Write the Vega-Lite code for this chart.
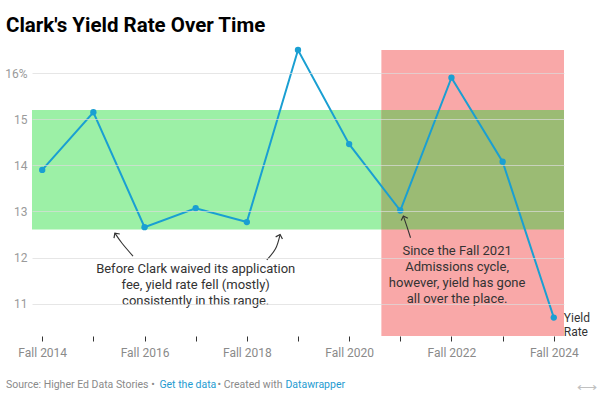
{
  "$schema": "https://vega.github.io/schema/vega-lite/v6.json",
  "width": 532,
  "height": 286,
  "autosize": {"type": "none"},
  "padding": {"left": 32, "top": 50, "right": 36, "bottom": 63},
  "background": "white",
  "config": {"font": "Roboto", "view": {"stroke": null}},
  "title": {
    "text": "Clark's Yield Rate Over Time",
    "anchor": "start",
    "frame": "group",
    "dx": -26,
    "offset": -6,
    "baseline": "alphabetic",
    "fontSize": 20.5,
    "fontWeight": "bold",
    "color": "#000000",
    "font": "Roboto"
  },
  "datasets": {
    "yield": [
      {"year": 2014, "rate": 13.90},
      {"year": 2015, "rate": 15.15},
      {"year": 2016, "rate": 12.66},
      {"year": 2017, "rate": 13.07},
      {"year": 2018, "rate": 12.77},
      {"year": 2019, "rate": 16.50},
      {"year": 2020, "rate": 14.46},
      {"year": 2021, "rate": 13.02},
      {"year": 2022, "rate": 15.90},
      {"year": 2023, "rate": 14.08},
      {"year": 2024, "rate": 10.70}
    ],
    "bands": [
      {"band": "green", "x1": 2013.8, "x2": 2024.2, "y1": 12.61, "y2": 15.2},
      {"band": "red", "x1": 2020.63, "x2": 2024.2, "y1": 10.3, "y2": 16.5},
      {"band": "overlap", "x1": 2020.63, "x2": 2024.2, "y1": 12.61, "y2": 15.2}
    ],
    "arrows": [
      {"arrow": 1, "ord": 0, "x": 2015.775, "y": 12.03},
      {"arrow": 1, "ord": 1, "x": 2015.56, "y": 12.31},
      {"arrow": 1, "ord": 2, "x": 2015.42, "y": 12.53},
      {"arrow": 2, "ord": 0, "x": 2018.39, "y": 11.95},
      {"arrow": 2, "ord": 1, "x": 2018.56, "y": 12.19},
      {"arrow": 2, "ord": 2, "x": 2018.65, "y": 12.50},
      {"arrow": 3, "ord": 0, "x": 2021.20, "y": 12.43},
      {"arrow": 3, "ord": 1, "x": 2021.13, "y": 12.67},
      {"arrow": 3, "ord": 2, "x": 2021.06, "y": 12.90}
    ],
    "notes": [
      {"note": "a", "x": 2017.0, "y": 11.655, "text": "Before Clark waived its application\nfee, yield rate fell (mostly)\nconsistently in this range."},
      {"note": "b", "x": 2022.11, "y": 12.05, "text": "Since the Fall 2021\nAdmissions cycle,\nhowever, yield has gone\nall over the place."}
    ],
    "endlabel": [
      {"x": 2024, "y": 10.70, "text": "Yield\nRate"}
    ]
  },
  "layer": [
    {
      "data": {"name": "bands"},
      "mark": {"type": "rect"},
      "encoding": {
        "x": {
          "field": "x1", "type": "quantitative", "title": null,
          "scale": {"domain": [2013.8, 2024.2], "nice": false, "zero": false},
          "axis": {
            "values": [2014, 2015, 2016, 2017, 2018, 2019, 2020, 2021, 2022, 2023, 2024],
            "labelExpr": "datum.value % 2 == 0 ? 'Fall ' + datum.value : ''",
            "domain": false,
            "grid": false,
            "tickColor": "#333333",
            "tickSize": 5,
            "labelPadding": 6,
            "labelColor": "#8a8a8a",
            "labelFontSize": 12,
            "labelFont": "Roboto",
            "labelFlush": false,
            "labelOverlap": false
          }
        },
        "x2": {"field": "x2"},
        "y": {
          "field": "y1", "type": "quantitative", "title": null,
          "scale": {"domain": [10.3, 16.5], "nice": false, "zero": false},
          "axis": {
            "values": [11, 12, 13, 14, 15, 16],
            "labelExpr": "datum.value == 16 ? '16%' : datum.label",
            "domain": false,
            "ticks": false,
            "labelPadding": 5,
            "labelColor": "#9a9a9a",
            "labelFontSize": 12,
            "labelFont": "Roboto",
            "grid": true,
            "gridColor": "#dcdcdc",
            "gridOpacity": 0.7,
            "zindex": 1
          }
        },
        "y2": {"field": "y2"},
        "color": {
          "field": "band", "type": "nominal", "legend": null,
          "scale": {"domain": ["green", "red", "overlap"], "range": ["#9cf0a6", "#f9a8a8", "#9bbb74"]}
        }
      }
    },
    {
      "data": {"name": "yield"},
      "mark": {"type": "line", "color": "#1a9fd2", "strokeWidth": 2},
      "encoding": {
        "x": {"field": "year", "type": "quantitative", "title": null},
        "y": {"field": "rate", "type": "quantitative", "title": null}
      }
    },
    {
      "data": {"name": "yield"},
      "mark": {"type": "point", "filled": true, "color": "#1a9fd2", "size": 40, "opacity": 1},
      "encoding": {
        "x": {"field": "year", "type": "quantitative", "title": null},
        "y": {"field": "rate", "type": "quantitative", "title": null}
      }
    },
    {
      "data": {"name": "arrows"},
      "mark": {"type": "line", "color": "#333333", "strokeWidth": 1.1, "interpolate": "natural"},
      "encoding": {
        "x": {"field": "x", "type": "quantitative", "title": null},
        "y": {"field": "y", "type": "quantitative", "title": null},
        "detail": {"field": "arrow"},
        "order": {"field": "ord"}
      }
    },
    {
      "data": {"name": "arrows"},
      "transform": [{"filter": "datum.arrow == 1 && datum.ord == 2"}],
      "mark": {"type": "point", "shape": "M-1,1L0,0L1,1", "filled": false, "color": "#333333", "strokeWidth": 1.2, "size": 50, "angle": 325, "opacity": 1},
      "encoding": {
        "x": {"field": "x", "type": "quantitative", "title": null},
        "y": {"field": "y", "type": "quantitative", "title": null}
      }
    },
    {
      "data": {"name": "arrows"},
      "transform": [{"filter": "datum.arrow == 2 && datum.ord == 2"}],
      "mark": {"type": "point", "shape": "M-1,1L0,0L1,1", "filled": false, "color": "#333333", "strokeWidth": 1.2, "size": 50, "angle": 17, "opacity": 1},
      "encoding": {
        "x": {"field": "x", "type": "quantitative", "title": null},
        "y": {"field": "y", "type": "quantitative", "title": null}
      }
    },
    {
      "data": {"name": "arrows"},
      "transform": [{"filter": "datum.arrow == 3 && datum.ord == 2"}],
      "mark": {"type": "point", "shape": "M-1,1L0,0L1,1", "filled": false, "color": "#333333", "strokeWidth": 1.2, "size": 50, "angle": 341, "opacity": 1},
      "encoding": {
        "x": {"field": "x", "type": "quantitative", "title": null},
        "y": {"field": "y", "type": "quantitative", "title": null}
      }
    },
    {
      "data": {"name": "notes"},
      "mark": {"type": "text", "align": "center", "baseline": "alphabetic", "fontSize": 13, "lineHeight": 16, "lineBreak": "\n", "color": "#333333", "font": "Roboto"},
      "encoding": {
        "x": {"field": "x", "type": "quantitative", "title": null},
        "y": {"field": "y", "type": "quantitative", "title": null},
        "text": {"field": "text"}
      }
    },
    {
      "data": {"name": "endlabel"},
      "mark": {"type": "text", "align": "left", "baseline": "alphabetic", "dx": 10, "dy": 4.5, "fontSize": 12, "lineHeight": 14, "lineBreak": "\n", "color": "#333333", "font": "Roboto"},
      "encoding": {
        "x": {"field": "x", "type": "quantitative", "title": null},
        "y": {"field": "y", "type": "quantitative", "title": null},
        "text": {"field": "text"}
      }
    },
    {
      "data": {"values": [{"t": "Source: Higher Ed Data Stories  •"}]},
      "mark": {"type": "text", "align": "left", "baseline": "alphabetic", "fontSize": 10.5, "color": "#8a8a8a", "font": "Roboto"},
      "encoding": {"x": {"value": -26}, "y": {"value": 338}, "text": {"field": "t"}}
    },
    {
      "data": {"values": [{"t": "Get the data"}]},
      "mark": {"type": "text", "align": "left", "baseline": "alphabetic", "fontSize": 10.5, "color": "#1f9bd1", "font": "Roboto"},
      "encoding": {"x": {"value": 127.4}, "y": {"value": 338}, "text": {"field": "t"}}
    },
    {
      "data": {"values": [{"t": "• Created with"}]},
      "mark": {"type": "text", "align": "left", "baseline": "alphabetic", "fontSize": 10.5, "color": "#8a8a8a", "font": "Roboto"},
      "encoding": {"x": {"value": 185.6}, "y": {"value": 338}, "text": {"field": "t"}}
    },
    {
      "data": {"values": [{"t": "Datawrapper"}]},
      "mark": {"type": "text", "align": "left", "baseline": "alphabetic", "fontSize": 10.5, "color": "#1f9bd1", "font": "Roboto"},
      "encoding": {"x": {"value": 253.4}, "y": {"value": 338}, "text": {"field": "t"}}
    },
    {
      "data": {"values": [{"t": "⟷"}]},
      "mark": {"type": "text", "align": "center", "baseline": "middle", "fontSize": 14, "color": "#c0c0c0"},
      "encoding": {"x": {"value": 555}, "y": {"value": 338}, "text": {"field": "t"}}
    }
  ]
}
